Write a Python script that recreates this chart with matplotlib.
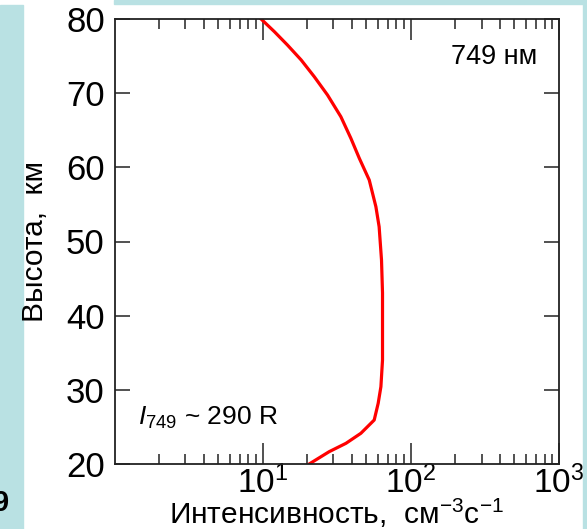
import matplotlib
matplotlib.use("Agg")
import matplotlib.pyplot as plt
from matplotlib.patches import Rectangle
from matplotlib import ticker
import numpy as np

plt.rcParams['font.family'] = ['Liberation Sans', 'DejaVu Sans']
plt.rcParams['mathtext.fontset'] = 'custom'
plt.rcParams['mathtext.rm'] = 'Liberation Sans'
plt.rcParams['mathtext.it'] = 'Liberation Sans:italic'

# profile: intensity (cm^-3 s^-1) vs altitude (km)
intensity = [20.6, 28.1, 36.5, 46.0, 56.6, 60.2, 62.8, 64.4, 64.4, 64.4, 63.4, 61.1,
             58.1, 52.4, 44.9, 39.4, 33.7, 27.4, 22.3, 18.2, 14.7, 12.0, 9.76]
altitude = [20.0, 21.66, 22.79, 24.14, 25.93, 28.18, 30.42, 34.02, 38.51, 43.06, 47.5, 51.99,
            54.69, 58.29, 61.22, 63.91, 66.83, 69.75, 72.22, 74.47, 76.49, 78.29, 80.0]

y_ticks = [20, 30, 40, 50, 60, 70, 80]
x_ticks = [10, 100, 1000]
x_tick_labels = [r'$\mathregular{10^{1}}$', r'$\mathregular{10^{2}}$', r'$\mathregular{10^{3}}$']

cyan = '#b9e1e3'

fig = plt.figure(figsize=(5.87, 5.29), dpi=100)
W, H = 587.0, 529.0
# light blue frame pieces around the slide
fig.patches.append(Rectangle((0, 0), 23 / W, (H - 5) / H, transform=fig.transFigure, color=cyan, zorder=0))
fig.patches.append(Rectangle((114 / W, (H - 4) / H), (583 - 114) / W, 4 / H, transform=fig.transFigure, color=cyan, zorder=0))
fig.patches.append(Rectangle((583 / W, 0), 4 / W, 1, transform=fig.transFigure, color=cyan, zorder=0))

ax = fig.add_axes([114.5 / W, 1 - 464 / H, (559 - 114.5) / W, (464 - 19) / H])
ax.plot(intensity, altitude, color='#ff0000', lw=2.3, solid_joinstyle='round')

ax.set_xscale('log')
ax.set_xlim(1, 1000)
ax.set_ylim(20, 80)
ax.set_yticks(y_ticks)
ax.xaxis.set_major_locator(ticker.FixedLocator(x_ticks))
ax.xaxis.set_major_formatter(ticker.FixedFormatter(x_tick_labels))
ax.xaxis.set_minor_locator(ticker.LogLocator(base=10, subs=np.arange(2, 10)))
ax.xaxis.set_minor_formatter(ticker.NullFormatter())

ax.tick_params(axis='both', which='major', direction='in', top=True, right=True,
               length=11, width=1.1, color='#222222', labelcolor='black', labelsize=25, pad=7)
ax.tick_params(axis='x', which='major', length=15, pad=1, labelsize=24)
ax.tick_params(axis='x', which='minor', direction='in', top=True, length=7, width=1.1, color='#222222')
for s in ax.spines.values():
    s.set_linewidth(1.3)
    s.set_color('#222222')

fig.text(336 / W, 1 - 524 / H, 'Интенсивность,  см$^{\\mathregular{-3}}$с$^{\\mathregular{-1}}$',
         fontsize=21.5, ha='center', va='baseline')
fig.text(35 / W, 1 - 242 / H, 'Высота,  км', fontsize=21.5, rotation=90, ha='center', va='center')

ax.text(0.855, 0.915, '749 нм', transform=ax.transAxes, fontsize=19.5, ha='center', va='center')
ax.text(0.053, 0.1045, r'$\mathit{I}_{749}$ ~ 290 R', transform=ax.transAxes, fontsize=19, ha='left', va='center')

fig.text(9.5 / W, 1 - 503 / H, '9', fontsize=21, fontweight='bold', ha='right', va='center')

fig.savefig('out.png', dpi=100, facecolor='white')
